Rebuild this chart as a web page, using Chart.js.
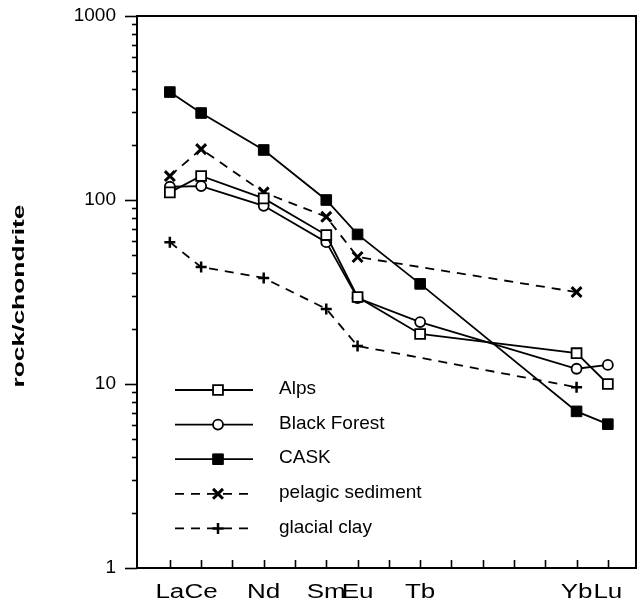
<!DOCTYPE html>
<html>
<head>
<meta charset="utf-8">
<script src="https://cdn.jsdelivr.net/npm/chart.js@4.4.1/dist/chart.umd.min.js"></script>
<style>
html,body{margin:0;padding:0;background:#fff;}
canvas{display:block;}
</style>
</head>
<body>
<canvas id="c" width="639" height="602"></canvas>
<script>
// ---- data ----
const elements = ['La','Ce','Pr','Nd','Pm','Sm','Eu','Gd','Tb','Dy','Ho','Er','Tm','Yb','Lu'];
const labeledElements = ['La','Ce','Nd','Sm','Eu','Tb','Yb','Lu'];
const yTickValues = [1, 10, 100, 1000];
const yAxisTitle = 'rock/chondrite';
const seriesNames = ['Alps', 'Black Forest', 'CASK', 'pelagic sediment', 'glacial clay'];

const alpsElements = ['La','Ce','Nd','Sm','Eu','Tb','Yb','Lu'];
const alpsValues = [110, 135, 102, 64.5, 29.7, 18.7, 14.7, 10.0];

const blackForestElements = ['La','Ce','Nd','Sm','Eu','Tb','Yb','Lu'];
const blackForestValues = [118, 119, 93, 59, 29.3, 21.7, 12.1, 12.7];

const caskElements = ['La','Ce','Nd','Sm','Eu','Tb','Yb','Lu'];
const caskValues = [386, 297, 187, 100, 65, 35, 7.1, 6.05];

const pelagicElements = ['La','Ce','Nd','Sm','Eu','Yb'];
const pelagicValues = [135, 189, 110, 81, 49, 31.6];

const glacialElements = ['La','Ce','Nd','Sm','Eu','Yb'];
const glacialValues = [59, 43.2, 37.7, 25.6, 16.1, 9.6];

function toPoints(els, vals) {
  return els.map((e, i) => ({ x: elements.indexOf(e), y: vals[i] }));
}

const FONT = '"Liberation Sans", Arial, Helvetica, sans-serif';

const datasets = [
  { label: seriesNames[0], data: toPoints(alpsElements, alpsValues),
    borderColor: '#000', borderWidth: 1.8, pointStyle: 'rect', pointRadius: 7,
    pointBackgroundColor: '#fff', pointBorderColor: '#000', pointBorderWidth: 1.8 },
  { label: seriesNames[1], data: toPoints(blackForestElements, blackForestValues),
    borderColor: '#000', borderWidth: 1.8, pointStyle: 'circle', pointRadius: 5,
    pointBackgroundColor: '#fff', pointBorderColor: '#000', pointBorderWidth: 1.8 },
  { label: seriesNames[2], data: toPoints(caskElements, caskValues),
    borderColor: '#000', borderWidth: 1.8, pointStyle: 'rect', pointRadius: 7.5,
    pointBackgroundColor: '#000', pointBorderColor: '#000', pointBorderWidth: 1 },
  { label: seriesNames[3], data: toPoints(pelagicElements, pelagicValues),
    borderColor: '#000', borderWidth: 1.8, borderDash: [9, 7], pointStyle: 'crossRot', pointRadius: 7,
    pointBackgroundColor: '#000', pointBorderColor: '#000', pointBorderWidth: 3 },
  { label: seriesNames[4], data: toPoints(glacialElements, glacialValues),
    borderColor: '#000', borderWidth: 1.8, borderDash: [9, 7], pointStyle: 'cross', pointRadius: 5.5,
    pointBackgroundColor: '#000', pointBorderColor: '#000', pointBorderWidth: 2.5 }
];

const X_LABEL_STRETCH = 1.3;

const decorPlugin = {
  id: 'decor',
  afterUpdate(chart) {
    const s = chart.scales.x;
    if (s && !s._stretched) {
      // draw the scale's own label items, horizontally stretched like the scanned figure
      s.drawLabels = function (ca) {
        const ctx = this.ctx;
        const items = this.getLabelItems(ca);
        ctx.save();
        for (const item of items) {
          if (!item.label) continue;
          const o = item.options;
          ctx.save();
          ctx.translate(o.translation[0], o.translation[1]);
          ctx.scale(X_LABEL_STRETCH, 1);
          ctx.font = item.font.string;
          ctx.fillStyle = o.color || '#000';
          ctx.textAlign = o.textAlign || 'center';
          ctx.textBaseline = o.textBaseline || 'middle';
          ctx.fillText(String(item.label), 0, item.textOffset || 0);
          ctx.restore();
        }
        ctx.restore();
      };
      s._stretched = true;
    }
  },
  afterDraw(chart) {
    const ctx = chart.ctx;
    const ca = chart.chartArea;
    const xs = chart.scales.x, ys = chart.scales.y;
    ctx.save();
    ctx.strokeStyle = '#000';
    ctx.fillStyle = '#000';
    // frame top & right
    ctx.lineWidth = 2;
    ctx.setLineDash([]);
    ctx.beginPath();
    ctx.moveTo(ca.left, ca.top);
    ctx.lineTo(ca.right, ca.top);
    ctx.lineTo(ca.right, ca.bottom);
    ctx.stroke();
    // x ticks (inward)
    ctx.lineWidth = 1.6;
    elements.forEach((e, i) => {
      const px = Math.round(xs.getPixelForValue(i)) + 0.5;
      ctx.beginPath();
      ctx.moveTo(px, ca.bottom);
      ctx.lineTo(px, ca.bottom - 8);
      ctx.stroke();
    });
    // y ticks (outward): major and minor
    for (let d = 1; d <= 1000; d *= 10) {
      for (let m = 1; m <= 9; m++) {
        const v = d * m;
        if (v > 1000) break;
        const py = Math.round(ys.getPixelForValue(v)) + 0.5;
        const len = m === 1 ? 12 : 5;
        ctx.beginPath();
        ctx.moveTo(ca.left, py);
        ctx.lineTo(ca.left - len, py);
        ctx.stroke();
      }
    }
    // y axis title (stretched)
    ctx.save();
    ctx.translate(19, (ca.top + ca.bottom) / 2 + 4);
    ctx.rotate(-Math.PI / 2);
    ctx.scale(1.55, 1);
    ctx.font = 'bold 17px ' + FONT;
    ctx.textAlign = 'center';
    ctx.textBaseline = 'middle';
    ctx.fillText(yAxisTitle, 0, 0);
    ctx.restore();
    // legend
    const x0 = ca.left + 38, x1 = ca.left + 116, xm = ca.left + 81, xt = ca.left + 142;
    const rowY0 = ca.top + 374, rowStep = 34.6;
    chart.data.datasets.forEach((ds, i) => {
      const y = rowY0 + i * rowStep;
      ctx.strokeStyle = '#000';
      ctx.lineWidth = ds.borderWidth;
      ctx.setLineDash(ds.borderDash || []);
      ctx.beginPath();
      ctx.moveTo(x0, y);
      ctx.lineTo(x1, y);
      ctx.stroke();
      ctx.setLineDash([]);
      ctx.fillStyle = ds.pointBackgroundColor;
      ctx.strokeStyle = ds.pointBorderColor;
      ctx.lineWidth = ds.pointBorderWidth;
      Chart.helpers.drawPoint(ctx, { pointStyle: ds.pointStyle, radius: ds.pointRadius, rotation: 0, borderWidth: ds.pointBorderWidth }, xm, y);
      ctx.fillStyle = '#000';
      ctx.font = '19px ' + FONT;
      ctx.textAlign = 'left';
      ctx.textBaseline = 'middle';
      ctx.fillText(ds.label, xt, y - 1);
    });
    ctx.restore();
  }
};

new Chart(document.getElementById('c'), {
  type: 'line',
  data: { datasets },
  plugins: [decorPlugin],
  options: {
    responsive: false,
    animation: false,
    events: [],
    layout: { autoPadding: false, padding: { left: 0, right: 3, top: 16, bottom: 0 } },
    plugins: { legend: { display: false }, tooltip: { enabled: false }, title: { display: false } },
    scales: {
      x: {
        type: 'linear',
        min: -1.05,
        max: 14.9,
        afterBuildTicks: (scale) => { scale.ticks = elements.map((e, i) => ({ value: i })); },
        afterFit: (scale) => { scale.height = 34; scale.paddingLeft = 0; scale.paddingRight = 0; },
        ticks: {
          autoSkip: false,
          maxRotation: 0,
          padding: 12,
          color: '#000',
          font: { family: FONT, size: 20 },
          callback: (v) => { const e = elements[v]; return labeledElements.includes(e) ? e : ''; }
        },
        grid: { display: true, drawOnChartArea: false, drawTicks: false, color: 'rgba(0,0,0,0)' },
        border: { display: true, color: '#000', width: 2 }
      },
      y: {
        type: 'logarithmic',
        min: 1,
        max: 1000,
        afterBuildTicks: (scale) => { scale.ticks = yTickValues.map(v => ({ value: v })); },
        afterFit: (scale) => { scale.width = 137; scale.paddingTop = 0; scale.paddingBottom = 0; },
        ticks: {
          padding: 21,
          color: '#000',
          font: { family: FONT, size: 19 },
          callback: (v) => String(v)
        },
        grid: { display: true, drawOnChartArea: false, drawTicks: false, color: 'rgba(0,0,0,0)' },
        border: { display: true, color: '#000', width: 2 }
      }
    }
  }
});
</script>
</body>
</html>
